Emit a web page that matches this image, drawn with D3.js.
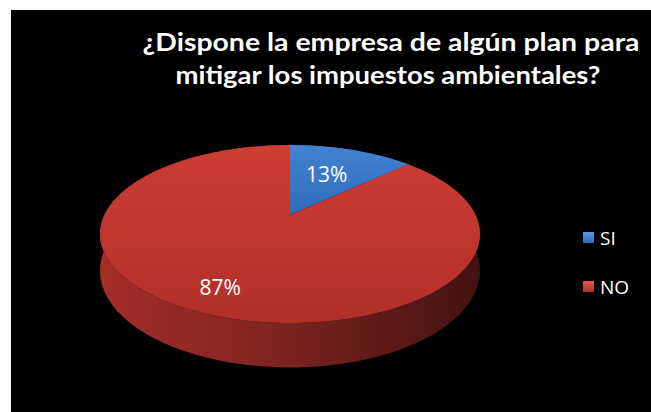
<!DOCTYPE html>
<html>
<head>
<meta charset="utf-8">
<script src="https://cdn.jsdelivr.net/npm/d3@7"></script>
<style>
  html, body { margin: 0; padding: 0; background: #ffffff; }
  svg { display: block; }
</style>
</head>
<body>
<svg id="chart" width="651" height="412"></svg>
<script>
// Survey answers
const categories = ["SI", "NO"];
const values = [13, 87];
const titleLines = [
  "¿Dispone la empresa de algún plan para",
  "mitigar los impuestos ambientales?"
];

const W = 651, H = 412;
const svg = d3.select("#chart");

// Black chart area
svg.append("rect").attr("x", 11).attr("y", 10)
  .attr("width", W - 11).attr("height", H - 10).attr("fill", "#000");

// Perspective disk geometry
const cx = 290, cy = 215;     // projected pie centre
const A = 185.6, B = 84.9;    // horizontal / vertical radii before perspective
const k = 0.2135;             // perspective strength (far side shrinks)
const D = 35;                 // thickness of the disk

function proj(theta, r, down) {
  const u = r * Math.sin(theta), v = -r * Math.cos(theta);
  const w = 1 - k * v;
  return [cx + A * u / w, cy + B * v / w + (down ? D / w : 0)];
}

const pie = d3.pie().sort(null).value(d => d)(values);

const defs = svg.append("defs");
function grad(id, x1, y1, x2, y2, stops) {
  const g = defs.append("linearGradient").attr("id", id)
    .attr("x1", x1).attr("y1", y1).attr("x2", x2).attr("y2", y2);
  stops.forEach(([o, c]) => g.append("stop").attr("offset", o).attr("stop-color", c));
}
grad("topSI", 0, 0, 0, 1, [[0, "#4283d3"], [1, "#2f6bbd"]]);
grad("topNO", 0, 0, 0, 1, [[0, "#cc3d33"], [0.6, "#bd352d"], [1, "#b02f29"]]);
grad("sideNO", 0, 0, 1, 0, [[0, "#a52d27"], [0.45, "#7f2420"], [1, "#421210"]]);
grad("sideSI", 0, 0, 1, 0, [[0, "#2c5f9f"], [1, "#1d406c"]]);
grad("legSI", 0, 0, 0, 1, [[0, "#5b9be6"], [1, "#2d69b8"]]);
grad("legNO", 0, 0, 0, 1, [[0, "#e45a4f"], [1, "#b02f29"]]);

const topFill = { SI: "url(#topSI)", NO: "url(#topNO)" };
const sideFill = { SI: "url(#sideSI)", NO: "url(#sideNO)" };

function arcPoints(a0, a1, r, down) {
  const n = Math.max(8, Math.ceil((a1 - a0) / 0.02));
  const pts = [];
  for (let i = 0; i <= n; i++) pts.push(proj(a0 + (a1 - a0) * i / n, r, down));
  return pts;
}
const line = d3.line();

// Outer side walls
const sides = svg.append("g");
pie.forEach((d, i) => {
  const top = arcPoints(d.startAngle, d.endAngle, 1, false);
  const bot = arcPoints(d.startAngle, d.endAngle, 1, true).reverse();
  sides.append("path")
    .attr("d", line(top.concat(bot)) + "Z")
    .attr("fill", sideFill[categories[i]]);
});

// Top faces
const tops = svg.append("g");
pie.forEach((d, i) => {
  const pts = [proj(0, 0, false)].concat(arcPoints(d.startAngle, d.endAngle, 1, false));
  tops.append("path")
    .attr("d", line(pts) + "Z")
    .attr("fill", topFill[categories[i]]);
});

// Percentage labels
const labelRadius = [0.55, 0.8];
const total = d3.sum(values);
pie.forEach((d, i) => {
  const p = proj((d.startAngle + d.endAngle) / 2, labelRadius[i], false);
  svg.append("text")
    .attr("x", p[0]).attr("y", p[1] + 6)
    .attr("text-anchor", "middle")
    .attr("font-family", "'Open Sans', Lato, sans-serif")
    .attr("font-size", 21)
    .attr("fill", "#ffffff")
    .text(Math.round(values[i] / total * 100) + "%");
});

// Title
const titleX = [391, 388];
const titleY = [51, 84];
const titleW = [497, 425];
titleLines.forEach((t, i) => {
  svg.append("text")
    .attr("x", titleX[i]).attr("y", titleY[i])
    .attr("text-anchor", "middle")
    .attr("font-family", "Lato, 'Open Sans', sans-serif")
    .attr("font-weight", 700)
    .attr("font-size", 24)
    .attr("fill", "#ffffff")
    .attr("textLength", titleW[i])
    .attr("lengthAdjust", "spacingAndGlyphs")
    .text(t);
});

// Legend
const legendY = d3.scalePoint().domain(categories).range([238, 287]);
const legend = svg.append("g");
categories.forEach(c => {
  const y = legendY(c);
  legend.append("rect")
    .attr("x", 583).attr("y", y - 6).attr("width", 11).attr("height", 11)
    .attr("fill", c === "SI" ? "url(#legSI)" : "url(#legNO)");
  legend.append("text")
    .attr("x", 600).attr("y", y + 7)
    .attr("font-family", "'Open Sans', Lato, sans-serif")
    .attr("font-size", 19)
    .attr("fill", "#ffffff")
    .text(c);
});
</script>
</body>
</html>
